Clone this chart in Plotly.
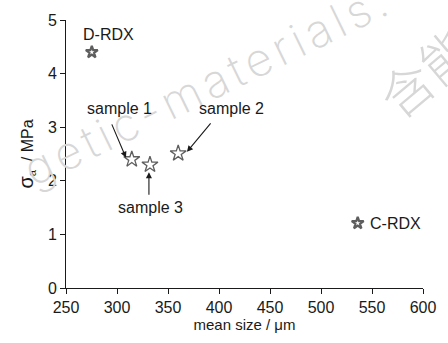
import plotly.graph_objects as go

# Mean particle size (um) and strength sigma_a (MPa)
names = ["D-RDX", "sample 1", "sample 3", "sample 2", "C-RDX"]
mean_size = [275.3, 314.5, 332.3, 360.0, 536.0]
sigma_a = [4.40, 2.40, 2.30, 2.51, 1.21]
marker_sizes = [9, 12, 12, 12, 9]
marker_widths = [2.2, 1.3, 1.3, 1.3, 2.2]

x_ticks = [250, 300, 350, 400, 450, 500, 550, 600]
y_ticks = [0, 1, 2, 3, 4, 5]

FONT = "Liberation Sans, Arial, sans-serif"
INK = "#1a1a1a"
MARK = "rgb(215,215,215)"

fig = go.Figure()
fig.add_trace(go.Scatter(
    x=mean_size, y=sigma_a, mode="markers",
    marker=dict(symbol="star-open", size=marker_sizes, color=INK,
                line=dict(color=INK, width=marker_widths)),
    showlegend=False, hoverinfo="x+y",
))

W, H = 448, 343
L, R, T, B = 66, 13, 20, 47
pw, ph = W - L - R, H - T - B


def px_to_paper(px, py):
    return (px - L) / pw, (H - B - py) / ph


annotations = []
# faint site watermark (thin, widely spaced letters)
wx, wy = px_to_paper(212, 86)
annotations.append(dict(
    text='<span style="letter-spacing:5px">getic-materials.</span>',
    xref="paper", yref="paper",
    x=wx, y=wy, showarrow=False, textangle=-26,
    font=dict(family="Inter, Roboto, Lato, Liberation Sans", size=46, color=MARK,
              weight=200),
    xanchor="center", yanchor="middle",
))
cx, cy = px_to_paper(478, 38)
annotations.append(dict(
    text="含能材料", xref="paper", yref="paper", x=cx, y=cy, showarrow=False,
    textangle=-40,
    font=dict(family="Noto Sans CJK SC", size=52, color=MARK, weight=200),
    xanchor="center", yanchor="middle",
))

# label text for each point
label_pos = {
    "D-RDX": (291.7, 4.73, "center"),
    "sample 1": (302.8, 3.34, "center"),
    "sample 2": (412.0, 3.34, "center"),
    "sample 3": (332.5, 1.50, "center"),
    "C-RDX": (546.0, 1.21, "left"),
}
for name in names:
    lx, ly, anchor = label_pos[name]
    annotations.append(dict(
        x=lx, y=ly, xref="x", yref="y", text=name, showarrow=False,
        xanchor=anchor, yanchor="middle",
        font=dict(family=FONT, size=16, color=INK),
    ))

# leader arrows: (head x, head y, tail x, tail y)
arrows = [
    (308.8, 2.43, 294.3, 3.08),
    (368.6, 2.54, 393.0, 3.10),
    (331.3, 2.16, 331.3, 1.71),
]
for hx, hy, tx, ty in arrows:
    annotations.append(dict(
        x=hx, y=hy, ax=tx, ay=ty, xref="x", yref="y", axref="x", ayref="y",
        text="", showarrow=True, arrowhead=2, arrowsize=1.1, arrowwidth=1.1,
        arrowcolor=INK,
    ))

axis_common = dict(
    showline=True, linecolor=INK, linewidth=1, mirror=False,
    ticks="outside", ticklen=5, tickwidth=1, tickcolor=INK,
    showgrid=False, zeroline=False, ticklabeloverflow="allow",
    tickfont=dict(family=FONT, size=16, color=INK),
)

fig.update_layout(
    width=W, height=H,
    margin=dict(l=L, r=R, t=T, b=B, pad=0),
    paper_bgcolor="white", plot_bgcolor="rgba(0,0,0,0)",
    xaxis=dict(range=[250, 600], tickvals=x_ticks, ticktext=[str(v) for v in x_ticks],
               title=dict(text="mean size / μm", standoff=4,
                          font=dict(family=FONT, size=15, color=INK)),
               **axis_common),
    yaxis=dict(range=[0, 5], tickvals=y_ticks, ticktext=[str(v) for v in y_ticks],
               title=dict(text='<span style="font-size:20px">σ</span><sub>a</sub>  / MPa',
                          standoff=10,
                          font=dict(family=FONT, size=16, color=INK)),
               **axis_common),
    annotations=annotations,
    showlegend=False,
)

fig.write_html("out.html", config={"displayModeBar": False})
